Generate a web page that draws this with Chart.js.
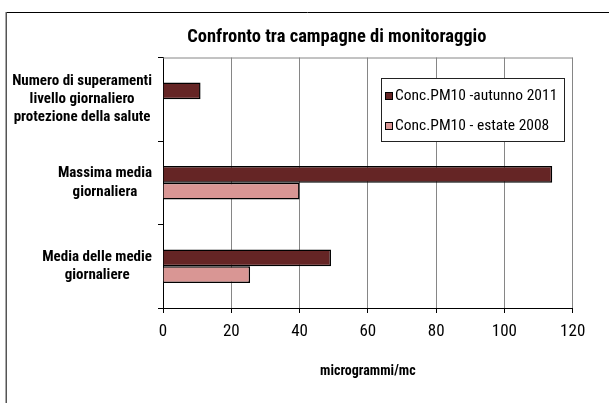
<!DOCTYPE html>
<html>
<head>
<meta charset="utf-8">
<script src="https://cdn.jsdelivr.net/npm/chart.js@4.4.0/dist/chart.umd.min.js"></script>
<style>
  html, body { margin: 0; padding: 0; background: #fff; }
  #wrap { width: 609px; height: 403px; }
</style>
</head>
<body>
<div id="wrap"><canvas id="pm10"></canvas></div>
<script>
// categorie (dall'alto verso il basso)
const categorie = [
  ['Numero di superamenti', 'livello giornaliero', 'protezione della salute'],
  ['Massima media', 'giornaliera'],
  ['Media delle medie', 'giornaliere']
];
const autunno2011 = [11, 114, 49.2];
const estate2008 = [null, 40, 25.5];
const serie = ['Conc.PM10 -autunno 2011', 'Conc.PM10 - estate 2008'];
const tickX = [0, 20, 40, 60, 80, 100, 120];

const FONT = "'Roboto Condensed', 'Liberation Sans', Arial, sans-serif";

// cornice, bordo del grafico, etichette categorie e legenda
const decorazioni = {
  id: 'decorazioni',
  beforeDatasetsDraw(chart) {
    const { ctx, chartArea } = chart;
    ctx.save();
    ctx.strokeStyle = '#868686';
    ctx.lineWidth = 1;
    ctx.beginPath();
    ctx.moveTo(chartArea.left, chartArea.top + 0.5);
    ctx.lineTo(chartArea.right, chartArea.top + 0.5);
    ctx.stroke();
    ctx.restore();
  },
  afterDraw(chart) {
    const ctx = chart.ctx;
    const y = chart.scales.y;
    ctx.save();

    // cornice esterna (solo lati superiore e sinistro visibili)
    ctx.strokeStyle = '#000';
    ctx.lineWidth = 1;
    ctx.beginPath();
    ctx.moveTo(6, 12.5);
    ctx.lineTo(chart.width, 12.5);
    ctx.stroke();
    ctx.strokeStyle = '#555';
    ctx.lineWidth = 1.5;
    ctx.beginPath();
    ctx.moveTo(6.25, 12);
    ctx.lineTo(6.25, chart.height);
    ctx.stroke();

    // etichette multilinea: blocco allineato a destra, righe centrate
    ctx.font = 'bold 15px ' + FONT;
    ctx.fillStyle = '#000';
    ctx.textAlign = 'center';
    ctx.textBaseline = 'middle';
    const lh = 18.3;
    const destra = y.right - 11;
    categorie.forEach((righe, i) => {
      const cy = y.getPixelForValue(i);
      const larg = Math.max(...righe.map(r => ctx.measureText(r).width));
      const cx = destra - larg / 2;
      righe.forEach((r, k) => {
        ctx.fillText(r, cx, cy + (k - (righe.length - 1) / 2) * lh);
      });
    });

    // legenda
    const bx = 381, by = 78, bw = 183, bh = 63;
    ctx.fillStyle = '#fff';
    ctx.fillRect(bx, by, bw, bh);
    ctx.strokeStyle = '#222';
    ctx.lineWidth = 1;
    ctx.strokeRect(bx + 0.5, by + 0.5, bw, bh);
    ctx.font = '15.5px ' + FONT;
    ctx.textAlign = 'left';
    chart.data.datasets.forEach((ds, i) => {
      const ry = 96 + i * 30;
      ctx.fillStyle = ds.backgroundColor;
      ctx.fillRect(385.5, ry - 3.5, 7, 7);
      ctx.strokeStyle = '#000';
      ctx.strokeRect(385.5, ry - 3.5, 7, 7);
      ctx.fillStyle = '#000';
      ctx.fillText(ds.label, 395, ry);
    });
    ctx.restore();
  }
};

new Chart(document.getElementById('pm10'), {
  type: 'bar',
  data: {
    labels: categorie,
    datasets: [
      { label: serie[0], data: autunno2011, backgroundColor: '#652525', borderColor: '#000', borderWidth: 1.5 },
      { label: serie[1], data: estate2008, backgroundColor: '#d99694', borderColor: '#000', borderWidth: 1.5 }
    ]
  },
  options: {
    indexAxis: 'y',
    responsive: true,
    maintainAspectRatio: false,
    animation: false,
    layout: { padding: { left: 101, right: 36.3, top: 0, bottom: 0 } },
    datasets: { bar: { categoryPercentage: 0.4, barPercentage: 1.0 } },
    plugins: {
      legend: { display: false },
      tooltip: { enabled: false },
      title: {
        display: true,
        text: 'Confronto tra campagne di monitoraggio',
        color: '#000',
        font: { family: FONT, size: 18.5, weight: 'bold' },
        padding: { top: 25.9, bottom: 9.4 }
      }
    },
    scales: {
      x: {
        min: 0,
        max: 120,
        afterBuildTicks: s => { s.ticks = tickX.map(v => ({ value: v })); },
        afterFit: s => { s.height = 95; },
        grid: { color: '#868686', tickColor: '#000', tickLength: 5 },
        border: { color: '#000', width: 1 },
        ticks: { color: '#000', padding: 9, font: { family: FONT, size: 17 } },
        title: {
          display: true,
          text: 'microgrammi/mc',
          color: '#000',
          font: { family: FONT, size: 14, weight: 'bold' },
          padding: { top: 0, bottom: 23 }
        }
      },
      y: {
        afterFit: s => { s.width = 62; },
        grid: { drawOnChartArea: false, tickColor: '#000', tickLength: 5, offset: true },
        border: { color: '#000', width: 1 },
        ticks: { display: false }
      }
    }
  },
  plugins: [decorazioni]
});
</script>
</body>
</html>
